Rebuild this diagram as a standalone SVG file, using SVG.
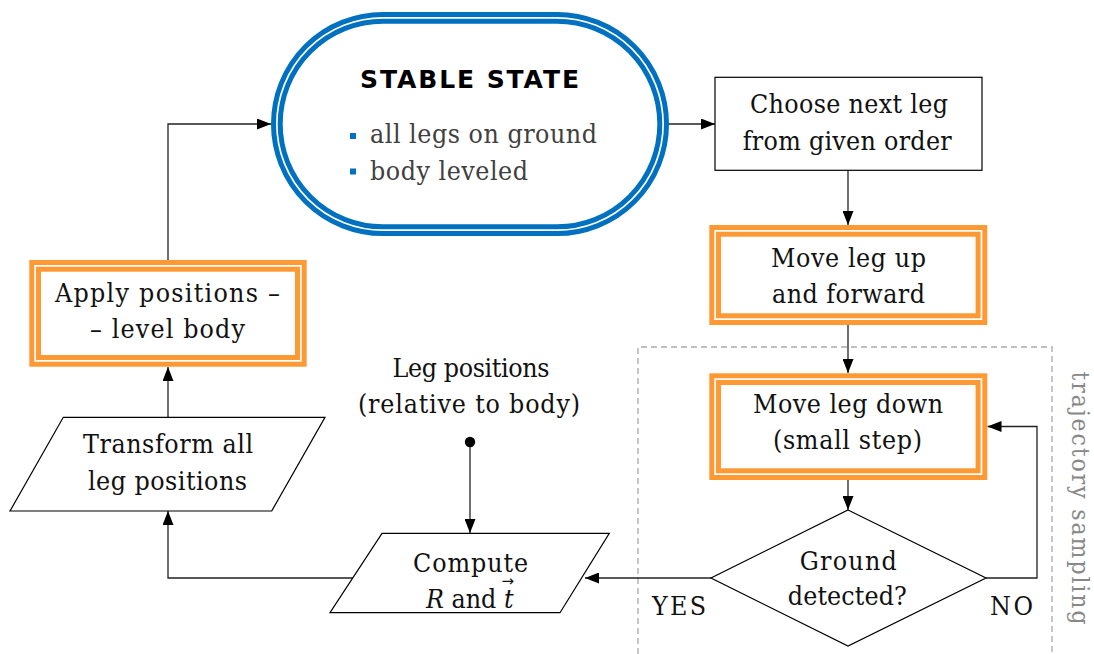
<svg xmlns="http://www.w3.org/2000/svg" width="1094" height="654" viewBox="0 0 1094 654">
<style>
.t{font-family:"DejaVu Serif Condensed","DejaVu Serif","Liberation Serif",serif;font-size:26.5px;fill:#111;text-anchor:middle}
.g{font-family:"DejaVu Serif Condensed","DejaVu Serif","Liberation Serif",serif;font-size:26.5px;fill:#404040}
.box{fill:#fff;stroke:#000;stroke-width:1.2}
.ob{fill:#fff;stroke:#FF9933;stroke-width:11.7}
.bb{fill:#fff;stroke:#0070C0;stroke-width:11.7}
.gap{fill:none;stroke:#fff;stroke-width:1.7}
.c{fill:none;stroke:#222;stroke-width:1.3}
.dash{fill:none;stroke:#aaa;stroke-width:1.3;stroke-dasharray:6 4}
</style>
<defs>
<marker id="ar" markerUnits="userSpaceOnUse" markerWidth="14" markerHeight="11" refX="14" refY="5.5" orient="auto">
<path d="M0,0 L14,5.5 L0,11 z" fill="#000"/>
</marker>
</defs>
<rect width="1094" height="654" fill="#fff"/>

<g id="region">
<path class="dash" d="M638,654 V347 H1052 V654"/>
<text class="g" transform="translate(1071.5,498) rotate(90)" style="fill:#888;text-anchor:middle;font-size:24.5px" textLength="253">trajectory sampling</text>
</g>

<g id="connectors">
<path class="c" d="M168,260 V124 H271" marker-end="url(#ar)"/>
<path class="c" d="M669,124 H715" marker-end="url(#ar)"/>
<path class="c" d="M848,170 V225" marker-end="url(#ar)"/>
<path class="c" d="M848,325 V373" marker-end="url(#ar)"/>
<path class="c" d="M848,480 V510" marker-end="url(#ar)"/>
<path class="c" d="M986,578 H1037 V426.5 H987.5" marker-end="url(#ar)"/>
<path class="c" d="M711,578 H585" marker-end="url(#ar)"/>
<path class="c" d="M353,578 H168 V511" marker-end="url(#ar)"/>
<path class="c" d="M168,417 V367" marker-end="url(#ar)"/>
<path class="c" d="M470,442 V533" marker-end="url(#ar)"/>
<circle cx="470" cy="442" r="5.2" fill="#000"/>
</g>

<g id="stable">
<rect class="bb" x="276.85" y="17.85" width="386.3" height="212.3" rx="106.15" ry="106.15"/>
<rect class="gap" x="276.85" y="17.85" width="386.3" height="212.3" rx="106.15" ry="106.15"/>
<text x="469.5" y="88" font-family="DejaVu Sans, sans-serif" font-weight="700" font-size="25" fill="#000" text-anchor="middle" textLength="219">STABLE STATE</text>
<rect x="350" y="133" width="6" height="6" fill="#0070C0"/>
<rect x="350" y="168.5" width="6" height="6" fill="#0070C0"/>
<text class="g" x="370" y="143.3" textLength="227">all legs on ground</text>
<text class="g" x="370" y="180" textLength="158">body leveled</text>
</g>

<g id="choose">
<rect class="box" x="715" y="77.3" width="267" height="93"/>
<text class="t" x="849" y="113.3" textLength="198">Choose next leg</text>
<text class="t" x="847.2" y="150" textLength="209">from given order</text>
</g>

<g id="moveup">
<rect class="ob" x="715.15" y="230.85" width="266.3" height="88.3"/>
<rect class="gap" x="715.15" y="230.85" width="266.3" height="88.3"/>
<text class="t" x="848.5" y="266.7" textLength="155">Move leg up</text>
<text class="t" x="848.5" y="303" textLength="153">and forward</text>
</g>

<g id="movedown">
<rect class="ob" x="715.15" y="379.15" width="266.3" height="95"/>
<rect class="gap" x="715.15" y="379.15" width="266.3" height="95"/>
<text class="t" x="848" y="413" textLength="190">Move leg down</text>
<text class="t" x="847.5" y="449" textLength="149">(small step)</text>
</g>

<g id="ground">
<path class="box" d="M848,510 L986,578 L848,646 L711,578 Z"/>
<text class="t" x="848.3" y="570" textLength="97">Ground</text>
<text class="t" x="847.3" y="605" textLength="119">detected?</text>
</g>

<g id="yes"><text class="t" x="679" y="615" textLength="54">YES</text></g>
<g id="no"><text class="t" x="1011.5" y="615" textLength="43">NO</text></g>

<g id="legpositions">
<text class="t" x="471" y="376.7" textLength="157">Leg positions</text>
<text class="t" x="469" y="413" textLength="222">(relative to body)</text>
</g>

<g id="compute">
<path class="box" d="M382,533.3 H609.3 L560,612.7 H330 Z"/>
<text class="t" x="470.5" y="571.7" textLength="115">Compute</text>
<text class="t" x="470" y="608"><tspan font-style="italic">R</tspan> and <tspan font-style="italic">t</tspan><tspan font-family="DejaVu Sans, sans-serif" font-style="normal" font-size="15" dx="-12" dy="-22">→</tspan></text>
</g>

<g id="transform">
<path class="box" d="M63.3,417.3 H325 L271.7,511 H10 Z"/>
<text class="t" x="168" y="453" textLength="170">Transform all</text>
<text class="t" x="167.5" y="490" textLength="159">leg positions</text>
</g>

<g id="apply">
<rect class="ob" x="35.15" y="265.85" width="265.7" height="95"/>
<rect class="gap" x="35.15" y="265.85" width="265.7" height="95"/>
<text class="t" x="167.5" y="301.7" textLength="225">Apply positions –</text>
<text class="t" x="167.5" y="338" textLength="155">– level body</text>
</g>
</svg>
